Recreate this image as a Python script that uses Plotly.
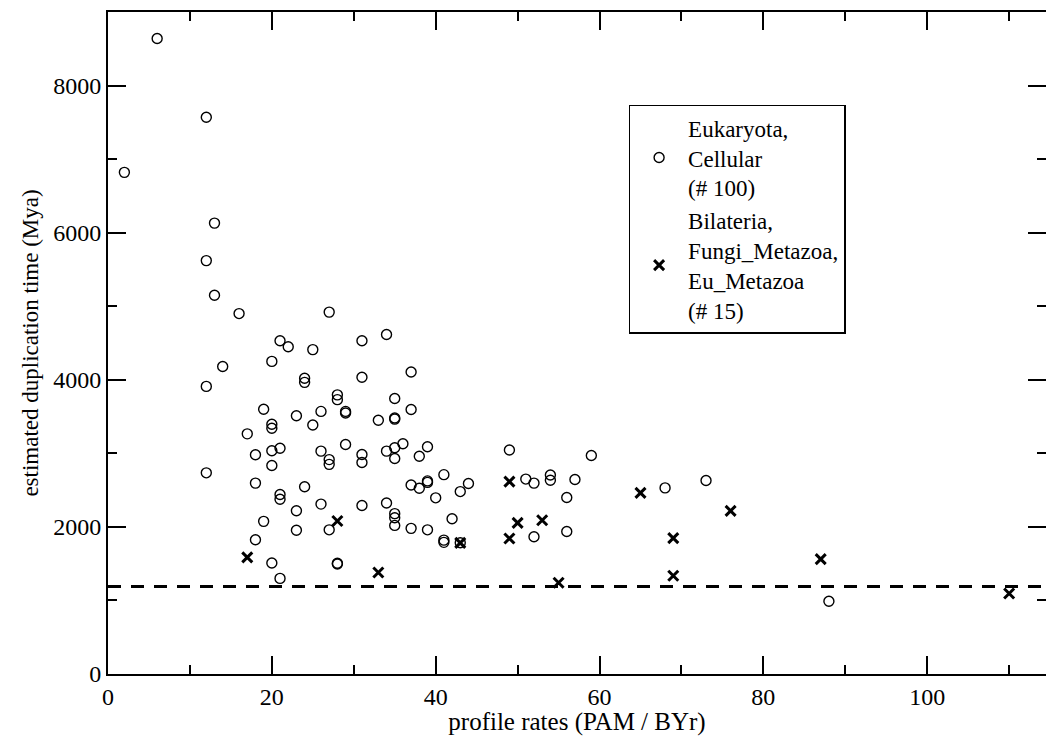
import plotly.graph_objects as go

# Eukaryota, Cellular (open circles)
euk_x = [2, 6, 12, 13, 12, 13, 16, 27,
         21, 22, 25, 14, 20, 12, 24, 24,
         28, 28, 29, 29, 19, 23, 26, 25,
         20, 20, 17, 29, 18, 20, 21, 26,
         27, 27, 20, 12, 18, 24, 21, 21,
         26, 23, 19, 23, 27, 18, 20, 28, 28, 21,
         31, 34, 31, 37, 35, 37, 33, 35, 35,
         31, 31, 34, 35, 36, 35, 38, 39,
         37, 38, 39, 39, 41, 40, 44, 43,
         31, 34, 35, 35, 35, 37, 39, 42,
         41, 41, 43,
         49, 51, 52, 54, 54, 57, 59, 56,
         52, 56, 68, 73, 88]
euk_y = [6820, 8640, 7570, 6130, 5620, 5150, 4900, 4920,
         4530, 4450, 4410, 4180, 4250, 3910, 4020, 3965,
         3795, 3730, 3570, 3548, 3600, 3510, 3570, 3385,
         3395, 3340, 3265, 3120, 2980, 3035, 3070, 3030,
         2915, 2850, 2835, 2735, 2595, 2545, 2440, 2375,
         2310, 2220, 2075, 1955, 1960, 1825, 1510, 1505, 1495, 1300,
         4530, 4615, 4035, 4105, 3745, 3595, 3450, 3480, 3465,
         2985, 2875, 3030, 3075, 3130, 2930, 2960, 3090,
         2570, 2525, 2625, 2605, 2710, 2395, 2590, 2480,
         2290, 2325, 2180, 2125, 2020, 1980, 1960, 2110,
         1820, 1790, 1785,
         3045, 2650, 2595, 2705, 2635, 2645, 2970, 2400,
         1865, 1937, 2530, 2630, 990]

# Bilateria, Fungi_Metazoa, Eu_Metazoa (crosses)
bil_x = [17, 28, 33, 43, 49, 50, 49, 53, 55, 65, 69, 69, 76, 87, 110]
bil_y = [1585, 2080, 1380, 1783, 2615, 2055, 1842, 2090, 1240, 2462, 1847, 1335, 2218, 1561, 1095]

# dashed reference level
ref_x = [0, 115]
ref_y = [1190, 1190]

euk_name = "Eukaryota,<br>Cellular<br>(# 100)"
bil_name = "Bilateria,<br>Fungi_Metazoa,<br>Eu_Metazoa<br>(# 15)"

FONT = "Liberation Serif, Times New Roman, serif"

fig = go.Figure()
fig.add_trace(go.Scatter(
    x=ref_x, y=ref_y, mode="lines", showlegend=False,
    line=dict(color="black", width=3, dash="13px,10px"), hoverinfo="skip"))
fig.add_trace(go.Scatter(
    x=euk_x, y=euk_y, mode="markers", name=euk_name,
    marker=dict(symbol="circle-open", size=10, color="black", line=dict(width=1.4))))
fig.add_trace(go.Scatter(
    x=bil_x, y=bil_y, mode="markers", name=bil_name,
    marker=dict(symbol="x-thin-open", size=10, color="black", line=dict(width=3))))

axis_common = dict(
    showline=True, linecolor="black", linewidth=2, mirror="ticks",
    ticks="inside", ticklen=18, tickwidth=1.5, tickcolor="black",
    showgrid=False, zeroline=False,
    tickfont=dict(family=FONT, size=24, color="black"),
)

fig.update_xaxes(
    range=[0, 114.5], dtick=20, tick0=0,
    title=dict(text="profile rates (PAM / BYr)", font=dict(family=FONT, size=25, color="black"), standoff=0),
    minor=dict(dtick=10, ticks="inside", ticklen=9, tickwidth=1.5, tickcolor="black"),
    **axis_common)
fig.update_yaxes(
    range=[0, 9000], dtick=2000, tick0=0,
    title=dict(text="estimated duplication time (Mya)", font=dict(family=FONT, size=23, color="black"), standoff=8),
    minor=dict(dtick=1000, ticks="inside", ticklen=9, tickwidth=1.5, tickcolor="black"),
    **axis_common)

fig.update_layout(
    width=1046, height=736,
    margin=dict(l=108, r=0, t=12, b=62, autoexpand=False),
    paper_bgcolor="white", plot_bgcolor="white",
    font=dict(family=FONT, color="black"),
    legend=dict(
        x=0.555, y=0.86, xanchor="left", yanchor="top",
        bgcolor="white", bordercolor="black", borderwidth=1.5,
        font=dict(family=FONT, size=23, color="black"),
        tracegroupgap=0, itemwidth=48,
    ),
)

fig.write_html(
    "out.html",
    config={"displayModeBar": False},
    post_script="document.body.style.margin='0px';document.body.style.overflow='hidden';",
)
